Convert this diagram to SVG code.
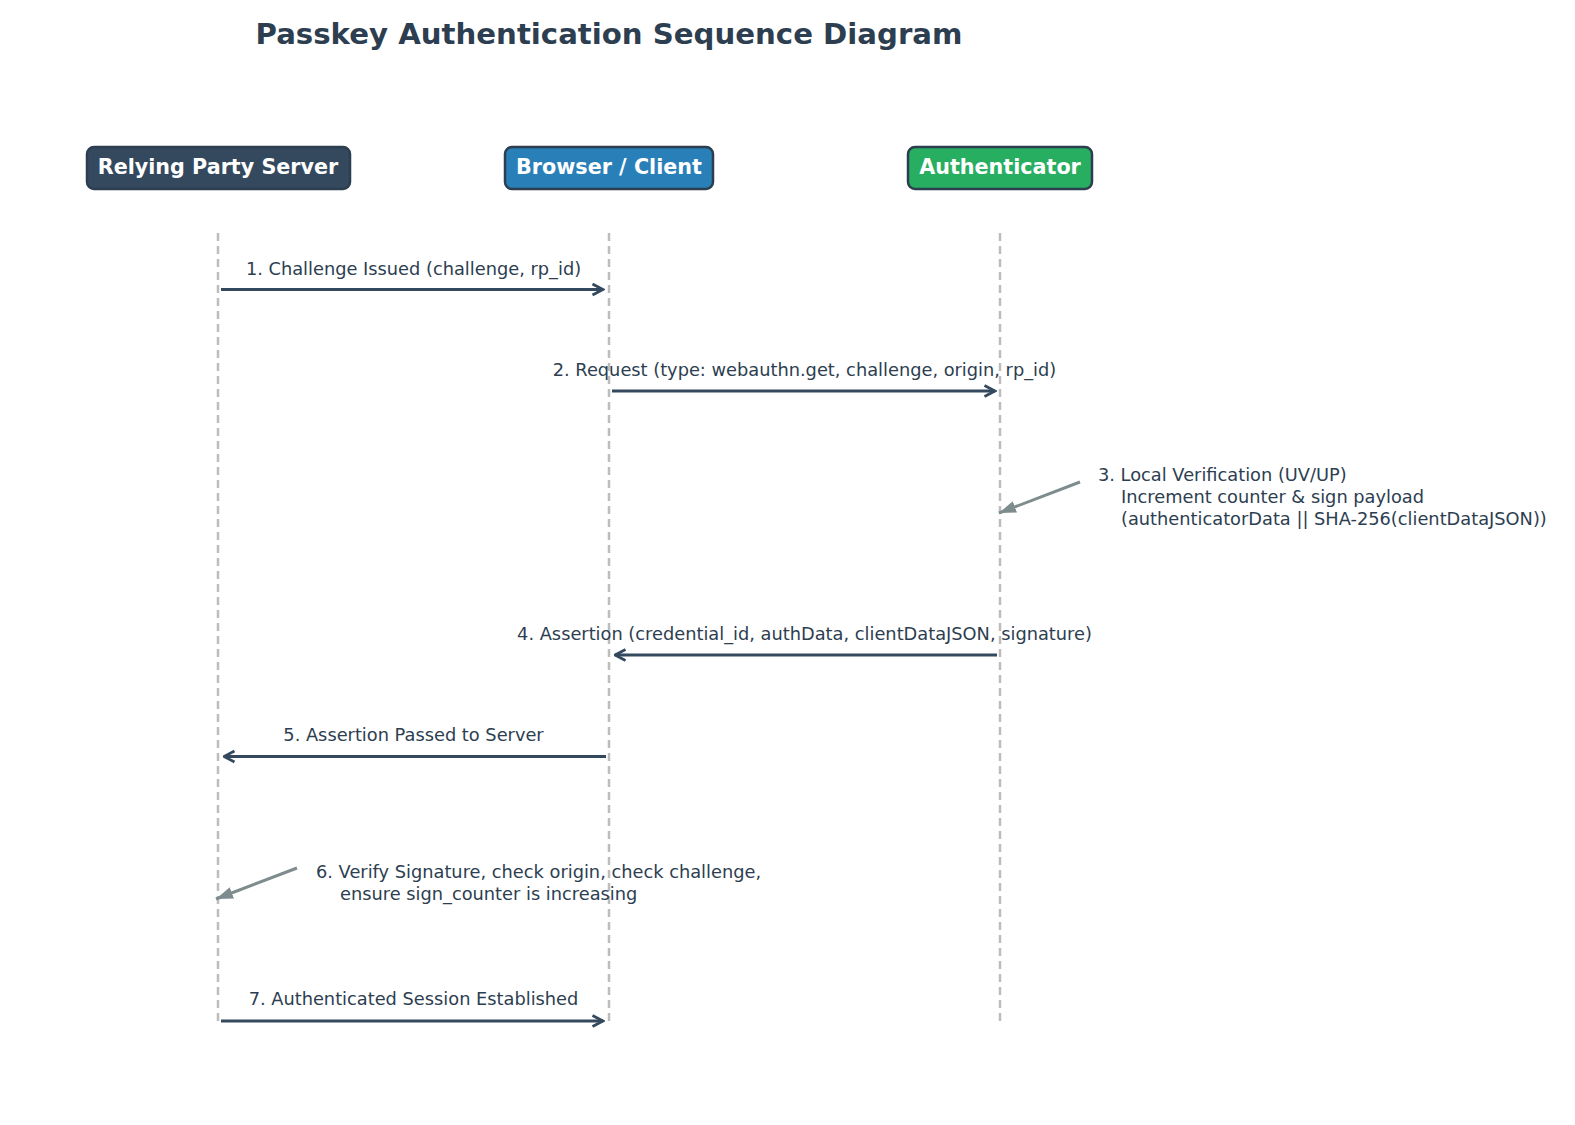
<svg xmlns="http://www.w3.org/2000/svg" width="1575" height="1125" viewBox="0 0 1575 1125">
<style>
.title{font-family:"DejaVu Sans",sans-serif;font-weight:bold;font-size:29.2px;fill:#2c3e50}
.actor rect{stroke:#2c3e50;stroke-width:2.5}
.actor text{font-family:"DejaVu Sans",sans-serif;font-weight:bold;font-size:20.7px;fill:#ffffff;text-anchor:middle}
.life{stroke:#bdbdbd;stroke-width:2.5;stroke-dasharray:8,5}
.msg{stroke:#34495e;stroke-width:3;fill:none;marker-end:url(#open)}
.note{stroke:#7f8c8d;stroke-width:3;fill:none;marker-end:url(#filled)}
.lbl{font-family:"DejaVu Sans",sans-serif;font-size:17.8px;fill:#2c3e50;text-anchor:middle}
.nt{font-family:"DejaVu Sans",sans-serif;font-size:17.8px;fill:#2c3e50}
</style>
<defs>
<marker id="open" viewBox="0 0 14 14" refX="12.5" refY="7" markerWidth="14" markerHeight="14" markerUnits="userSpaceOnUse" orient="auto">
<path d="M2,1.5 L12.5,7 L2,12.5" fill="none" stroke="#34495e" stroke-width="2.8" stroke-linejoin="miter"/>
</marker>
<marker id="filled" viewBox="0 0 18 14" refX="17" refY="7" markerWidth="18" markerHeight="14" markerUnits="userSpaceOnUse" orient="auto">
<path d="M0,1 L17,7 L0,13 Z" fill="#7f8c8d"/>
</marker>
</defs>
<rect width="1575" height="1125" fill="#ffffff"/>
<text class="title" x="609" y="44" text-anchor="middle">Passkey Authentication Sequence Diagram</text>

<g id="lifelines">
<line class="life" x1="218" y1="233" x2="218" y2="1023"/>
<line class="life" x1="609" y1="233" x2="609" y2="1023"/>
<line class="life" x1="1000" y1="233" x2="1000" y2="1023"/>
</g>

<g id="rp" class="actor">
<rect x="87" y="147" width="263" height="42" rx="7" fill="#34495e"/>
<text x="218" y="173.5">Relying Party Server</text>
</g>
<g id="browser" class="actor">
<rect x="505" y="147" width="208" height="42" rx="7" fill="#2980b9"/>
<text x="609" y="173.5">Browser / Client</text>
</g>
<g id="authenticator" class="actor">
<rect x="908" y="147" width="184" height="42" rx="7" fill="#27ae60"/>
<text x="1000" y="173.5">Authenticator</text>
</g>

<g id="connectors">
<line class="msg" x1="221" y1="289.5" x2="603" y2="289.5"/>
<line class="msg" x1="612" y1="391" x2="995" y2="391"/>
<line class="note" x1="1080" y1="482" x2="999" y2="513"/>
<line class="msg" x1="997" y1="655" x2="615" y2="655"/>
<line class="msg" x1="606" y1="756.5" x2="224" y2="756.5"/>
<line class="note" x1="297" y1="868" x2="216" y2="899"/>
<line class="msg" x1="221" y1="1021" x2="603" y2="1021"/>
</g>

<g id="labels">
<text class="lbl" x="413.5" y="274.5">1. Challenge Issued (challenge, rp_id)</text>
<text class="lbl" x="804.5" y="376">2. Request (type: webauthn.get, challenge, origin, rp_id)</text>
<text class="nt" x="1098" y="480.5">3. Local Verification (UV/UP)</text>
<text class="nt" x="1121" y="502.5">Increment counter &amp; sign payload</text>
<text class="nt" x="1121" y="524.5">(authenticatorData || SHA-256(clientDataJSON))</text>
<text class="lbl" x="804.5" y="639.5">4. Assertion (credential_id, authData, clientDataJSON, signature)</text>
<text class="lbl" x="413.5" y="741">5. Assertion Passed to Server</text>
<text class="nt" x="316" y="877.5">6. Verify Signature, check origin, check challenge,</text>
<text class="nt" x="340" y="899.5">ensure sign_counter is increasing</text>
<text class="lbl" x="413.5" y="1004.5">7. Authenticated Session Established</text>
</g>
</svg>
